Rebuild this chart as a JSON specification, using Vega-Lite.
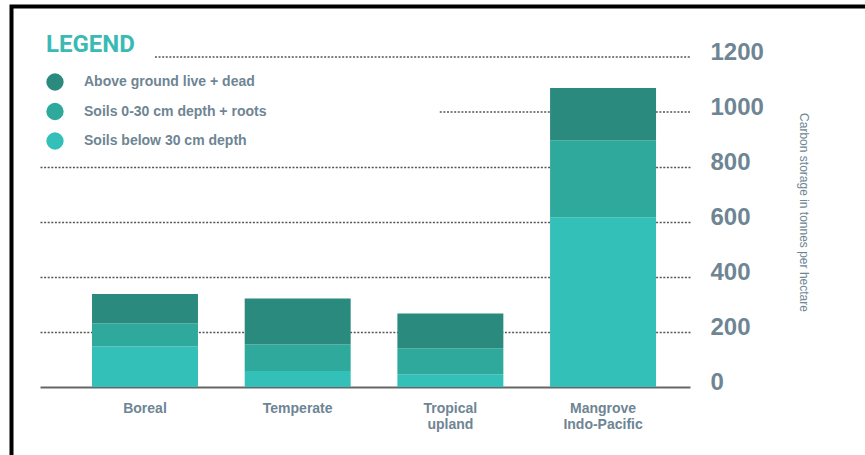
{
  "$schema": "https://vega.github.io/schema/vega-lite/v6.json",
  "width": 650,
  "height": 330,
  "autosize": {"type": "none"},
  "padding": {"left": 40, "top": 57, "right": 175, "bottom": 68},
  "background": "white",
  "config": {"view": {"stroke": null}, "font": "Liberation Sans", "legend": {"strokeWidth": 4}},
  "layer": [
    {
      "data": {"values": [{}]},
      "mark": {"type": "rule", "strokeDash": [2, 1.6], "strokeWidth": 1.5, "color": "#555555"},
      "encoding": {
        "y": {"datum": 1200, "type": "quantitative"},
        "x": {"datum": "Boreal", "type": "nominal", "bandPosition": 0.594},
        "x2": {"value": "width"}
      }
    },
    {
      "data": {"values": [{}]},
      "mark": {"type": "rule", "strokeDash": [2, 1.6], "strokeWidth": 1.5, "color": "#555555"},
      "encoding": {
        "y": {"datum": 1000, "type": "quantitative"},
        "x": {"datum": "Tropical upland", "type": "nominal", "bandPosition": 0.4},
        "x2": {"value": "width"}
      }
    },
    {
      "data": {
        "values": [
          {"forest": "Boreal", "component": "Soils below 30 cm depth", "carbon": 147},
          {"forest": "Boreal", "component": "Soils 0-30 cm depth + roots", "carbon": 84},
          {"forest": "Boreal", "component": "Above ground live + dead", "carbon": 107},
          {"forest": "Temperate", "component": "Soils below 30 cm depth", "carbon": 58},
          {"forest": "Temperate", "component": "Soils 0-30 cm depth + roots", "carbon": 97},
          {"forest": "Temperate", "component": "Above ground live + dead", "carbon": 167},
          {"forest": "Tropical upland", "component": "Soils below 30 cm depth", "carbon": 46},
          {"forest": "Tropical upland", "component": "Soils 0-30 cm depth + roots", "carbon": 95},
          {"forest": "Tropical upland", "component": "Above ground live + dead", "carbon": 126},
          {"forest": "Mangrove Indo-Pacific", "component": "Soils below 30 cm depth", "carbon": 617},
          {"forest": "Mangrove Indo-Pacific", "component": "Soils 0-30 cm depth + roots", "carbon": 280},
          {"forest": "Mangrove Indo-Pacific", "component": "Above ground live + dead", "carbon": 190}
        ]
      },
      "mark": {"type": "bar"},
      "encoding": {
        "x": {
          "field": "forest",
          "type": "nominal",
          "scale": {
            "domain": ["Boreal", "Temperate", "Tropical upland", "Mangrove Indo-Pacific"],
            "paddingInner": 0.306,
            "paddingOuter": 0.2815,
            "align": 0.605
          },
          "axis": {
            "title": null,
            "labelExpr": "split(datum.label, ' ')",
            "labelAngle": 0,
            "labelAlign": "center",
            "bandPosition": 0.5,
            "ticks": false,
            "grid": false,
            "domainColor": "#666666",
            "domainWidth": 2,
            "labelFont": "Liberation Sans",
            "labelFontWeight": "bold",
            "labelFontSize": 14,
            "labelColor": "#6e8594",
            "labelPadding": 21,
            "labelLineHeight": 16
          }
        },
        "y": {
          "field": "carbon",
          "type": "quantitative",
          "stack": "zero",
          "scale": {"domain": [0, 1200], "nice": false},
          "axis": {
            "orient": "right",
            "values": [0, 200, 400, 600, 800, 1000, 1200],
            "format": "d",
            "title": "Carbon storage in tonnes per hectare",
            "ticks": false,
            "domain": false,
            "grid": true,
            "gridDash": [2, 1.6],
            "gridColor": "#555555",
            "gridWidth": 1.5,
            "gridOpacity": {"condition": {"test": "datum.value == 0 || datum.value > 800", "value": 0}, "value": 1},
            "labelFont": "Liberation Sans",
            "labelFontWeight": "bold",
            "labelFontSize": 24,
            "labelColor": "#6e8594",
            "labelPadding": 20,
            "labelOffset": -5,
            "labelBaseline": "middle",
            "labelAlign": "left",
            "titleFont": "Liberation Sans",
            "titleFontSize": 12,
            "titleFontWeight": "normal",
            "titleColor": "#6e8594",
            "titleAngle": 90,
            "titleX": 113,
            "titleY": 155,
            "titleAlign": "center",
            "titleBaseline": "middle"
          }
        },
        "color": {
          "field": "component",
          "type": "nominal",
          "scale": {
            "domain": ["Above ground live + dead", "Soils 0-30 cm depth + roots", "Soils below 30 cm depth"],
            "range": ["#2a8a7e", "#2fa99c", "#33c0b9"]
          },
          "legend": {
            "orient": "none",
            "legendX": 6,
            "legendY": -24,
            "title": "LEGEND",
            "titleFont": "Roboto",
            "titleFontSize": 24,
            "titleFontWeight": "bold",
            "titleColor": "#3bbab4",
            "titlePadding": 16,
            "symbolType": "circle",
            "symbolSize": 300,
            "symbolStrokeWidth": 0,
            "symbolOpacity": 1,
            "labelFont": "Liberation Sans",
            "labelFontWeight": "bold",
            "labelFontSize": 14,
            "labelColor": "#6e8594",
            "labelOffset": 20,
            "labelLimit": 400,
            "rowPadding": 11.5,
            "padding": 0
          }
        },
        "order": {"field": "component", "sort": "descending"},
        "strokeDash": {
          "field": "forest",
          "type": "nominal",
          "legend": {
            "orient": "none",
            "legendX": -28.5,
            "legendY": -50.5,
            "padding": 700,
            "strokeColor": "#000000",
            "title": null,
            "labelExpr": "''",
            "symbolOpacity": 0
          }
        }
      }
    }
  ]
}
